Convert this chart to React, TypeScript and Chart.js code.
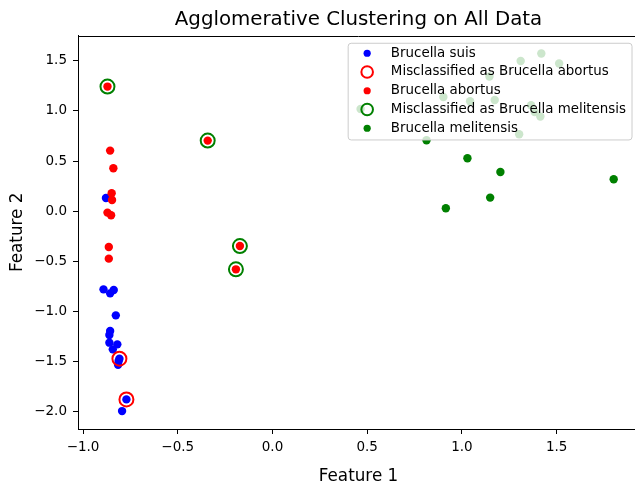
import { useEffect, useRef } from "react";
import { Chart, registerables } from "chart.js";

Chart.register(...registerables);

const chartTitle = "Agglomerative Clustering on All Data";
const xLabel = "Feature 1";
const yLabel = "Feature 2";

const xTicks = [-1.0, -0.5, 0.0, 0.5, 1.0, 1.5];
const yTicks = [-2.0, -1.5, -1.0, -0.5, 0.0, 0.5, 1.0, 1.5];

const suisX = [-0.879, -0.892, -0.857, -0.838, -0.827, -0.857, -0.861, -0.861, -0.819, -0.843, -0.808, -0.812, -0.815, -0.771, -0.794];
const suisY = [0.13, -0.783, -0.823, -0.79, -1.043, -1.2, -1.24, -1.316, -1.333, -1.383, -1.476, -1.5, -1.536, -1.883, -2.0];

const misAbortusX = [-0.808, -0.771];
const misAbortusY = [-1.476, -1.883];

const abortusX = [-0.871, -0.857, -0.84, -0.849, -0.847, -0.871, -0.852, -0.864, -0.864, -0.342, -0.172, -0.193];
const abortusY = [1.244, 0.604, 0.427, 0.177, 0.11, -0.016, -0.043, -0.36, -0.476, 0.704, -0.35, -0.583];

const misMelitensisX = [-0.871, -0.342, -0.172, -0.193];
const misMelitensisY = [1.244, 0.704, -0.35, -0.583];

const melitensisX = [1.419, 1.31, 1.513, 1.145, 0.902, 1.043, 1.173, 1.365, 1.384, 1.414, 1.302, 0.465, 0.813, 1.029, 1.203, 1.801, 1.149, 0.915];
const melitensisY = [1.574, 1.5, 1.474, 1.344, 1.14, 1.097, 1.11, 1.057, 0.99, 0.944, 0.767, 1.02, 0.707, 0.527, 0.39, 0.317, 0.134, 0.027];

const seriesNames = [
  "Brucella suis",
  "Misclassified as Brucella abortus",
  "Brucella abortus",
  "Misclassified as Brucella melitensis",
  "Brucella melitensis",
];

const BLUE = "#0000ff";
const RED = "#ff0000";
const GREEN = "#008000";
const FONT = "'DejaVu Sans', sans-serif";

const pts = (xs: number[], ys: number[]) => xs.map((x, i) => ({ x, y: ys[i] }));
const fmt = (v: number) => v.toFixed(1).replace("-", "\u2212");

const legendItems = [
  { label: seriesNames[0], color: BLUE, ring: false },
  { label: seriesNames[1], color: RED, ring: true },
  { label: seriesNames[2], color: RED, ring: false },
  { label: seriesNames[3], color: GREEN, ring: true },
  { label: seriesNames[4], color: GREEN, ring: false },
];

const framePlugin = {
  id: "frameAndLegend",
  afterDatasetsDraw(chart: any) {
    const { ctx, chartArea: a } = chart;
    ctx.save();
    // top and right spines
    ctx.strokeStyle = "#000";
    ctx.lineWidth = 1;
    ctx.beginPath();
    ctx.moveTo(a.left, Math.round(a.top) + 0.5);
    ctx.lineTo(a.right, Math.round(a.top) + 0.5);
    ctx.moveTo(Math.round(a.right) - 0.5, a.top);
    ctx.lineTo(Math.round(a.right) - 0.5, a.bottom);
    ctx.stroke();

    // legend
    const fs = 13.4;
    ctx.font = `${fs}px ${FONT}`;
    const maxW = Math.max(...legendItems.map((i) => ctx.measureText(i.label).width));
    const w = 42.7 + maxW + 6;
    const h = 96.7;
    const right = a.right - 7;
    const top = a.top + 7.6;
    const left = right - w;
    const r = 3;
    ctx.beginPath();
    ctx.moveTo(left + r, top);
    ctx.lineTo(left + w - r, top);
    ctx.arcTo(left + w, top, left + w, top + r, r);
    ctx.lineTo(left + w, top + h - r);
    ctx.arcTo(left + w, top + h, left + w - r, top + h, r);
    ctx.lineTo(left + r, top + h);
    ctx.arcTo(left, top + h, left, top + h - r, r);
    ctx.lineTo(left, top + r);
    ctx.arcTo(left, top, left + r, top, r);
    ctx.closePath();
    ctx.fillStyle = "rgba(255,255,255,0.8)";
    ctx.fill();
    ctx.strokeStyle = "#cccccc";
    ctx.lineWidth = 1;
    ctx.stroke();

    legendItems.forEach((it, i) => {
      const y = top + 10 + i * 18.75;
      const mx = left + 19;
      ctx.beginPath();
      if (it.ring) {
        ctx.arc(mx, y, 5.8, 0, Math.PI * 2);
        ctx.strokeStyle = it.color;
        ctx.lineWidth = 2;
        ctx.stroke();
      } else {
        ctx.arc(mx, y, 3.6, 0, Math.PI * 2);
        ctx.fillStyle = it.color;
        ctx.fill();
      }
      ctx.fillStyle = "#000";
      ctx.textAlign = "left";
      ctx.textBaseline = "middle";
      ctx.fillText(it.label, left + 42.7, y);
    });
    ctx.restore();
  },
};

export default function App() {
  const ref = useRef<HTMLCanvasElement>(null);

  useEffect(() => {
    if (!ref.current) return;
    const tickFont = { family: FONT, size: 13.5 };
    const chart = new Chart(ref.current, {
      type: "scatter",
      data: {
        datasets: [
          {
            label: seriesNames[4],
            data: pts(melitensisX, melitensisY),
            backgroundColor: GREEN,
            borderWidth: 0,
            pointRadius: 4.2,
          },
          {
            label: seriesNames[3],
            data: pts(misMelitensisX, misMelitensisY),
            backgroundColor: "rgba(0,0,0,0)",
            borderColor: GREEN,
            borderWidth: 2,
            pointRadius: 7,
          },
          {
            label: seriesNames[2],
            data: pts(abortusX, abortusY),
            backgroundColor: RED,
            borderWidth: 0,
            pointRadius: 4.2,
          },
          {
            label: seriesNames[1],
            data: pts(misAbortusX, misAbortusY),
            backgroundColor: "rgba(0,0,0,0)",
            borderColor: RED,
            borderWidth: 2,
            pointRadius: 7,
          },
          {
            label: seriesNames[0],
            data: pts(suisX, suisY),
            backgroundColor: BLUE,
            borderWidth: 0,
            pointRadius: 4.2,
          },
        ],
      },
      options: {
        animation: false,
        responsive: false,
        devicePixelRatio: 1,
        events: [],
        layout: { autoPadding: false, padding: { left: 0, right: 1, top: 0, bottom: 0 } },
        plugins: {
          legend: { display: false },
          tooltip: { enabled: false },
          title: {
            display: true,
            text: chartTitle,
            color: "#000",
            fullSize: false,
            font: { family: FONT, size: 19.8, weight: "normal", lineHeight: 1.2 },
            padding: { top: 8.4, bottom: 3.5 },
          },
        },
        scales: {
          x: {
            type: "linear",
            min: -1.0266,
            max: 1.9346,
            afterFit: (s: any) => {
              s.height = 57;
              s.paddingLeft = 0;
              s.paddingRight = 0;
            },
            afterBuildTicks: (s: any) => {
              s.ticks = xTicks.map((v) => ({ value: v }));
            },
            ticks: {
              color: "#000",
              font: tickFont,
              padding: 5,
              maxRotation: 0,
              callback: (v: any) => fmt(Number(v)),
            },
            grid: {
              display: true,
              drawOnChartArea: false,
              drawTicks: true,
              tickLength: 5,
              tickColor: "#000",
              tickWidth: 1,
            },
            border: { display: true, color: "#000", width: 1 },
            title: {
              display: true,
              text: xLabel,
              color: "#000",
              font: { family: FONT, size: 16.8, lineHeight: 1.2 },
              padding: { top: 0, bottom: -1 },
            },
          },
          y: {
            type: "linear",
            min: -2.179,
            max: 1.753,
            afterFit: (s: any) => {
              s.width = 78;
              s.paddingTop = 0;
              s.paddingBottom = 0;
            },
            afterBuildTicks: (s: any) => {
              s.ticks = yTicks.map((v) => ({ value: v }));
            },
            ticks: {
              color: "#000",
              font: tickFont,
              padding: 6,
              callback: (v: any) => fmt(Number(v)),
            },
            grid: {
              display: true,
              drawOnChartArea: false,
              drawTicks: true,
              tickLength: 5,
              tickColor: "#000",
              tickWidth: 1,
            },
            border: { display: true, color: "#000", width: 1 },
            title: {
              display: true,
              text: yLabel,
              color: "#000",
              font: { family: FONT, size: 16.8, lineHeight: 1.2 },
              padding: { top: 7.5, bottom: 0 },
            },
          },
        },
      },
      plugins: [framePlugin],
    } as any);
    return () => chart.destroy();
  }, []);

  return (
    <div
      style={{
        position: "fixed",
        left: 0,
        top: 0,
        width: 635,
        height: 486,
        overflow: "hidden",
        background: "#fff",
      }}
    >
      <canvas ref={ref} width={640} height={486} style={{ display: "block" }} />
    </div>
  );
}
